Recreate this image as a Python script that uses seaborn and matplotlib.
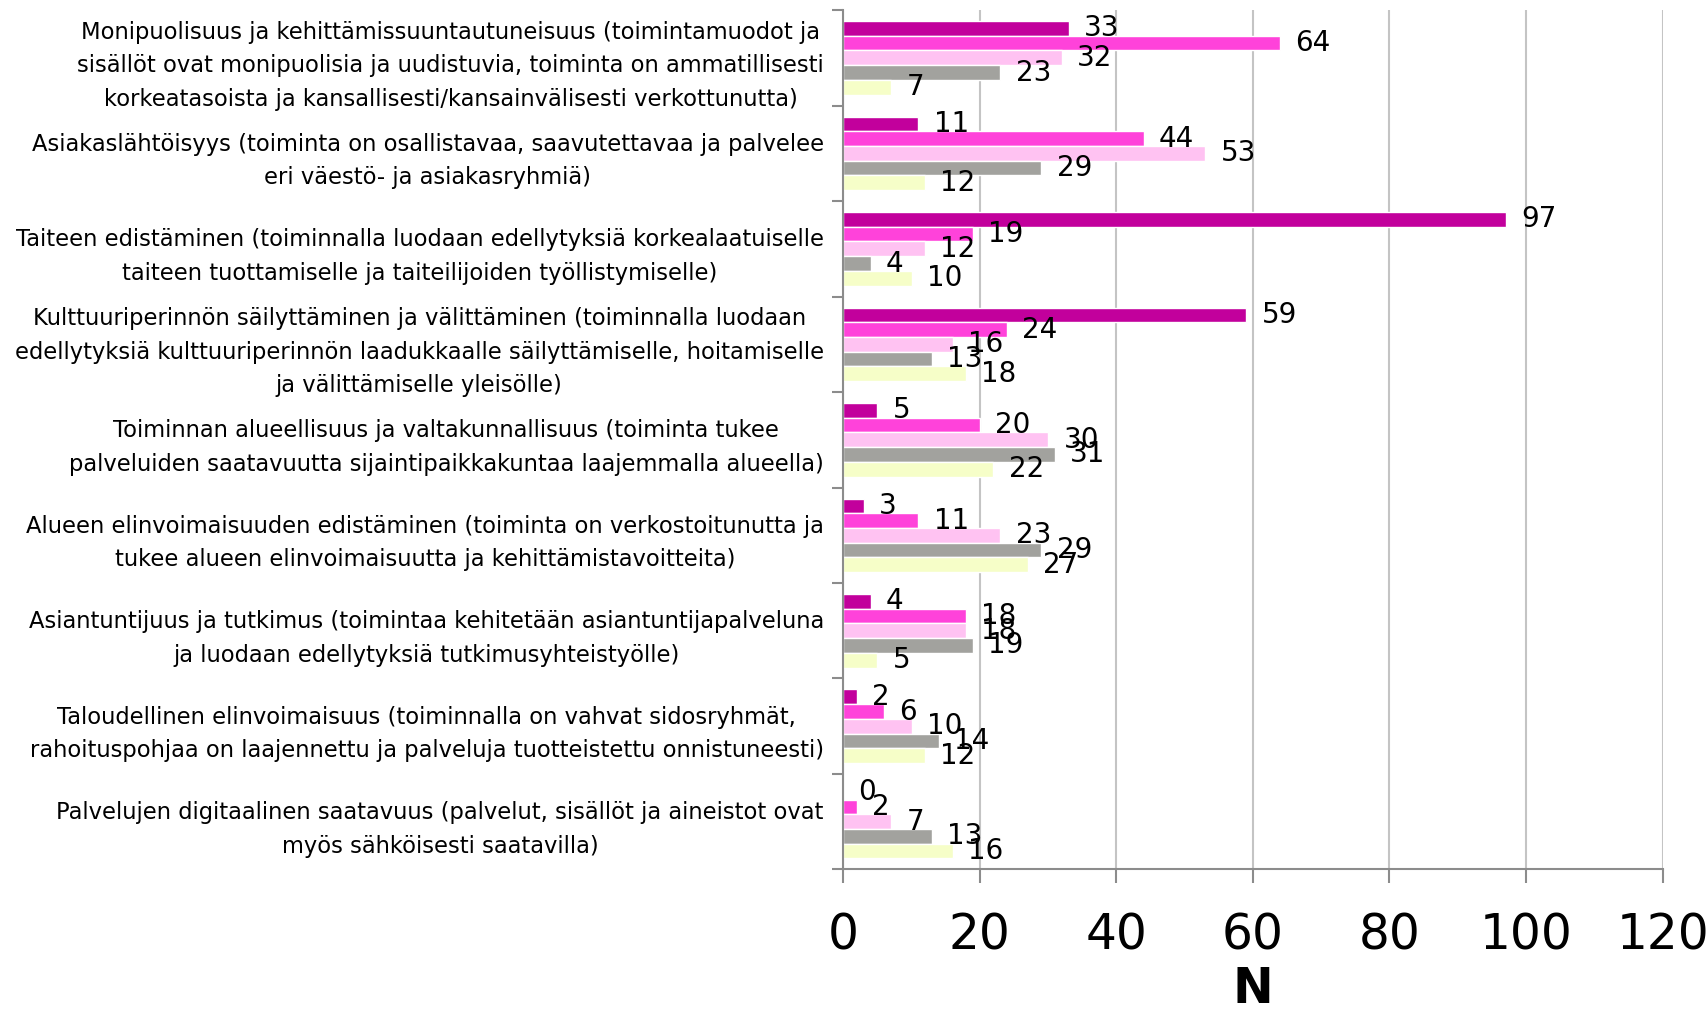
import numpy as np
import pandas as pd
import matplotlib
matplotlib.use("Agg")
import matplotlib.pyplot as plt
import seaborn as sns

# ==========================================================
# DATA
# ==========================================================

categories = [
    "Monipuolisuus ja kehittämissuuntautuneisuus (toimintamuodot ja\n"
    "sisällöt ovat monipuolisia ja uudistuvia, toiminta on ammatillisesti\n"
    "korkeatasoista ja kansallisesti/kansainvälisesti verkottunutta)",
    "Asiakaslähtöisyys (toiminta on osallistavaa, saavutettavaa ja palvelee\n"
    "eri väestö- ja asiakasryhmiä)",
    "Taiteen edistäminen (toiminnalla luodaan edellytyksiä korkealaatuiselle\n"
    "taiteen tuottamiselle ja taiteilijoiden työllistymiselle)",
    "Kulttuuriperinnön säilyttäminen ja välittäminen (toiminnalla luodaan\n"
    "edellytyksiä kulttuuriperinnön laadukkaalle säilyttämiselle, hoitamiselle\n"
    "ja välittämiselle yleisölle)",
    "Toiminnan alueellisuus ja valtakunnallisuus (toiminta tukee\n"
    "palveluiden saatavuutta sijaintipaikkakuntaa laajemmalla alueella)",
    "Alueen elinvoimaisuuden edistäminen (toiminta on verkostoitunutta ja\n"
    "tukee alueen elinvoimaisuutta ja kehittämistavoitteita)",
    "Asiantuntijuus ja tutkimus (toimintaa kehitetään asiantuntijapalveluna\n"
    "ja luodaan edellytyksiä tutkimusyhteistyölle)",
    "Taloudellinen elinvoimaisuus (toiminnalla on vahvat sidosryhmät,\n"
    "rahoituspohjaa on laajennettu ja palveluja tuotteistettu onnistuneesti)",
    "Palvelujen digitaalinen saatavuus (palvelut, sisällöt ja aineistot ovat\n"
    "myös sähköisesti saatavilla)",
]

series_names = ["Sarja 1", "Sarja 2", "Sarja 3", "Sarja 4", "Sarja 5"]

sarja1 = [33, 11, 97, 59, 5, 3, 4, 2, 0]
sarja2 = [64, 44, 19, 24, 20, 11, 18, 6, 2]
sarja3 = [32, 53, 12, 16, 30, 23, 18, 10, 7]
sarja4 = [23, 29, 4, 13, 31, 29, 19, 14, 13]
sarja5 = [7, 12, 10, 18, 22, 27, 5, 12, 16]

colors = ["#c2009c", "#ff42da", "#ffc2f2", "#a2a29e", "#f6fec8"]

df = pd.DataFrame({
    "kategoria": categories * 5,
    "sarja": np.repeat(series_names, len(categories)),
    "N": sarja1 + sarja2 + sarja3 + sarja4 + sarja5,
})

# ==========================================================
# PLOT
# ==========================================================

sns.set_style("white")
plt.rcParams["font.family"] = ["DejaVu Sans"]
plt.rcParams["text.color"] = "black"
plt.rcParams["xtick.labelcolor"] = "black"
plt.rcParams["ytick.labelcolor"] = "black"
plt.rcParams["axes.labelcolor"] = "black"

fig = plt.figure(figsize=(17.07, 10.11), dpi=100)
ax = fig.add_axes([0.494, 0.140, 0.480, 0.850])

sns.barplot(
    data=df,
    y="kategoria",
    x="N",
    hue="sarja",
    orient="h",
    palette=colors,
    saturation=1,
    width=0.77,
    legend=False,
    errorbar=None,
    ax=ax,
)

for cont in ax.containers:
    ax.bar_label(cont, padding=11, fontsize=20, color="black")

ax.set_xlim(0, 120)
ax.set_xticks(range(0, 121, 20))
ax.set_ylim(len(categories) - 0.5, -0.5)
ax.xaxis.grid(True, color="#c4c4c4", lw=1.5)
ax.set_axisbelow(True)

for side in ["top", "right"]:
    ax.spines[side].set_visible(False)
for side in ["left", "bottom"]:
    ax.spines[side].set_color("#8c8c8c")
    ax.spines[side].set_linewidth(1.5)

ax.tick_params(axis="x", direction="out", length=10, width=1.5,
               color="#8c8c8c", labelsize=35, pad=20, bottom=True)
ax.set_yticks(np.arange(-0.5, len(categories), 1), minor=True)
ax.tick_params(axis="y", which="major", length=0, pad=14, labelsize=16.3)
ax.tick_params(axis="y", which="minor", direction="out", length=8,
               width=1.5, color="#8c8c8c", left=True)

for lbl in ax.get_yticklabels():
    lbl.set_multialignment("center")
    lbl.set_linespacing(1.58)

ax.set_ylabel("")
ax.set_xlabel("N", fontsize=35, fontweight="bold", labelpad=4)

fig.savefig("out.png", dpi=100)
